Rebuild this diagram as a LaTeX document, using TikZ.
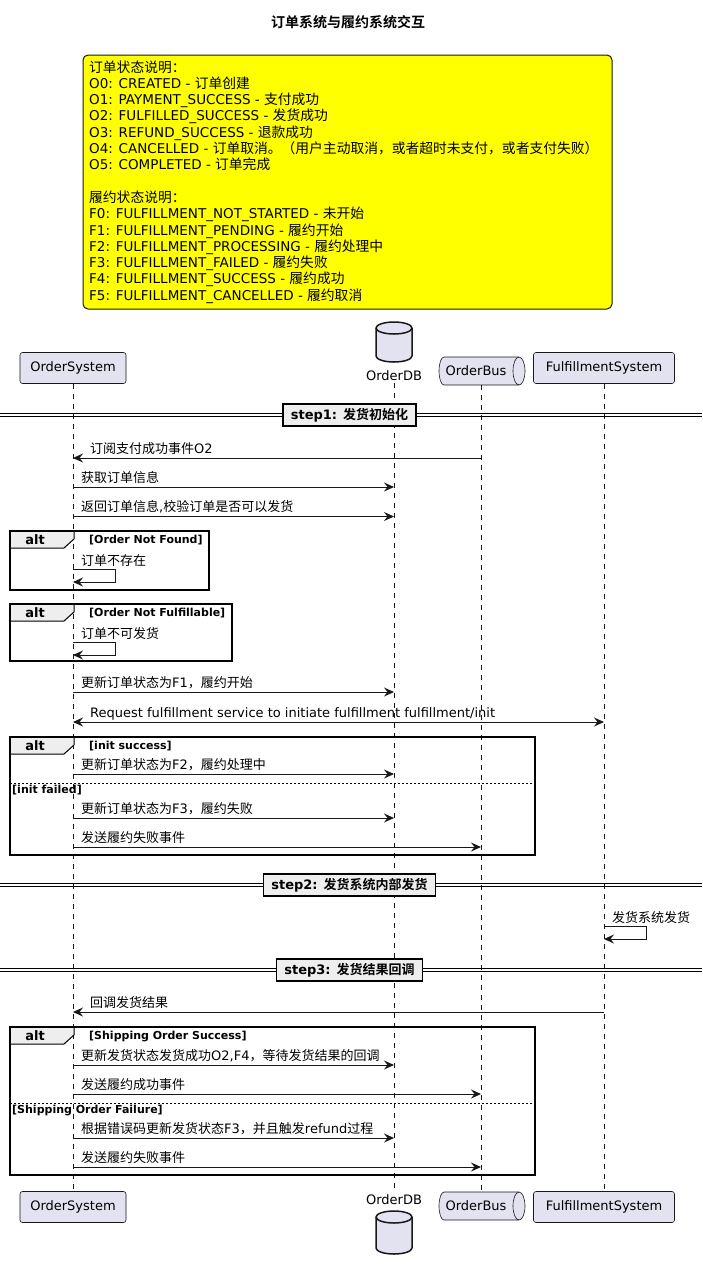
\documentclass[tikz,border=0pt]{standalone}
\usepackage{fontspec}
\setmainfont{DejaVu Sans}
\newfontfamily\cjkfont{Noto Sans CJK SC}[BoldFont={Noto Sans CJK SC Bold}]
\newfontfamily\cjknotefont{Noto Sans CJK SC}[Scale=1.02]
\usetikzlibrary{arrows.meta,calc}

% Han characters and CJK punctuation are set in the CJK family (\cjksel),
% everything else stays in DejaVu Sans.
\XeTeXinterchartokenstate=1
\newXeTeXintercharclass\cjkcls
\newcount\cjkcode
\newcommand\setcjkrange[2]{\cjkcode=#1\relax
  \loop\XeTeXcharclass\cjkcode=\cjkcls\relax
  \ifnum\cjkcode<#2\advance\cjkcode by 1\relax\repeat}
\setcjkrange{"3000}{"303F}
\setcjkrange{"4E00}{"9FFF}
\setcjkrange{"FF00}{"FFEF}
\newcommand\cjksel{\cjkfont}
\XeTeXinterchartoks 0 \cjkcls = {\cjksel}
\XeTeXinterchartoks 4095 \cjkcls = {\cjksel}
\XeTeXinterchartoks \cjkcls 0 = {\rmfamily}
\XeTeXinterchartoks \cjkcls 4095 = {\rmfamily}

\definecolor{partfill}{HTML}{E2E2F0}
\definecolor{partline}{HTML}{181818}
\definecolor{tabfill}{HTML}{EEEEEE}
\definecolor{notefill}{HTML}{FFFF00}

\tikzset{
  txt/.style={font=\fontsize{13}{15}\selectfont, inner sep=0pt},
  part/.style={txt, draw=partline, fill=partfill, line width=0.6pt, rounded corners=2.5pt, minimum height=31pt},
  dbshape/.style={draw=partline, fill=partfill, line width=1.5pt},
  queue/.style={draw=partline, fill=partfill, line width=0.6pt},
  lifeline/.style={draw=partline, line width=0.6pt, dash pattern=on 5pt off 5pt},
  msg/.style={draw=partline, line width=1pt, -{Stealth[length=10pt,width=9pt,inset=3.5pt]}},
  bimsg/.style={draw=partline, line width=1pt, {Stealth[length=10pt,width=9pt,inset=3.5pt]}-{Stealth[length=10pt,width=9pt,inset=3.5pt]}},
  lbl/.style={txt, anchor=base west},
  notebox/.style={draw=partline, fill=notefill, line width=1pt, rounded corners=5pt, inner sep=0pt},
  notetext/.style={font=\fontsize{13.5}{16.3}\selectfont\renewcommand\cjksel{\cjknotefont}, inner sep=0pt, anchor=base west},
  titletext/.style={font=\bfseries\fontsize{14}{16}\selectfont, inner sep=0pt},
  dline/.style={draw=black, line width=1pt},
  stepbox/.style={font=\bfseries\fontsize{13}{15}\selectfont, draw=black, fill=tabfill, line width=1.5pt, inner xsep=8pt, inner ysep=0pt, minimum height=22pt},
  altframe/.style={draw=black, line width=1.5pt},
  tab/.style={draw=black, fill=tabfill, line width=1pt},
  alttext/.style={font=\bfseries\fontsize{13}{15}\selectfont, inner sep=0pt},
  condtext/.style={font=\bfseries\fontsize{11}{13}\selectfont, inner sep=0pt, anchor=west},
  altsep/.style={draw=black, line width=0.8pt, dash pattern=on 2pt off 2pt},
}

% message between two lifelines: row name, from, to, y, label offset from OrderSystem, label
\newcommand\seqmsg[6]{%
  \coordinate (#1) at (0,#4);
  \draw[msg] (#2 |- #1) -- (#3 |- #1);
  \node[lbl] (#1t) at ($(os |- #1)+(#5,-5)$) {#6};
}
% message from a lifeline to itself: row name, lifeline, y of the loop top, label
\newcommand\selfmsg[4]{%
  \coordinate (#1) at (0,#3);
  \node[lbl] (#1t) at ($(#2 |- #1)+(8,-4)$) {#4};
  \draw[msg] (#2 |- #1) -- ++(42,0) -- ++(0,13) -- ($(#2 |- #1)+(0,13)$);
}
% section divider: name, y, text
\newcommand\divider[3]{%
  \draw[dline] (0,#2-1.5) -- (702,#2-1.5);
  \draw[dline] (0,#2+1.5) -- (702,#2+1.5);
  \node[stepbox] (#1) at (349.5,#2) {#3};
}
% alt fragment: name, x1, y1, x2, y2, guard
\newcommand\altbox[6]{%
  \draw[tab] (#2,#3) -- ++(64,0) -- ++(0,8) -- ++(-10,9) -- (#2,#3+17) -- cycle;
  \draw[altframe] (#2,#3) rectangle (#4,#5);
  \node[alttext] (#1a) at (#2+25,#3+9) {alt};
  \node[condtext] (#1c) at (#2+79,#3+9) {#6};
}
% database cylinder: left x, top y, bottom y
\newcommand\dbcyl[3]{%
  \draw[dbshape] (#1,#2+6) -- (#1,#3-6) arc[start angle=180, end angle=360, x radius=18pt, y radius=6pt]
    -- (#1+36,#2+6) arc[start angle=0, end angle=180, x radius=18pt, y radius=6pt] -- cycle;
  \draw[dbshape, fill=none] (#1,#2+6) arc[start angle=180, end angle=360, x radius=18pt, y radius=6pt];
}
% queue drum: left x, top y
\newcommand\queuedrum[2]{%
  \draw[queue] (#1+5,#2) -- (#1+80,#2) arc[start angle=90, end angle=-90, x radius=6pt, y radius=14pt]
    -- (#1+5,#2+28) arc[start angle=270, end angle=90, x radius=5pt, y radius=14pt] -- cycle;
  \draw[queue, fill=none] (#1+80,#2) arc[start angle=90, end angle=270, x radius=6pt, y radius=14pt];
}

\begin{document}
\begin{tikzpicture}[x=1pt,y=-1pt]
\useasboundingbox (0,0) rectangle (702,1270);
\fill[white] (0,0) rectangle (702,1270);

% title
\node[titletext] (title) at (348,22) {订单系统与履约系统交互};

% state legend
\node[notebox, minimum width=529pt, minimum height=254pt] (note) at (347.5,182) {};
\node[notetext] (notetxt) at (89,72) {\vtop{\baselineskip=16.3pt \lineskiplimit=-20pt
  \hbox{订单状态说明：}
  \hbox{O0: CREATED - 订单创建}
  \hbox{O1: PAYMENT\_SUCCESS - 支付成功}
  \hbox{O2: FULFILLED\_SUCCESS - 发货成功}
  \hbox{O3: REFUND\_SUCCESS - 退款成功}
  \hbox{O4: CANCELLED - 订单取消。（用户主动取消，或者超时未支付，或者支付失败）}
  \hbox{O5: COMPLETED - 订单完成}
  \hbox{}
  \hbox{履约状态说明：}
  \hbox{F0: FULFILLMENT\_NOT\_STARTED - 未开始}
  \hbox{F1: FULFILLMENT\_PENDING - 履约开始}
  \hbox{F2: FULFILLMENT\_PROCESSING - 履约处理中}
  \hbox{F3: FULFILLMENT\_FAILED - 履约失败}
  \hbox{F4: FULFILLMENT\_SUCCESS - 履约成功}
  \hbox{F5: FULFILLMENT\_CANCELLED - 履约取消}}};

% participants, top
\node[part, minimum width=106pt] (os) at (73,368) {OrderSystem};
\dbcyl{376}{322}{362}
\node[txt, inner sep=2pt] (dblbl) at (394,376) {OrderDB};
\queuedrum{439}{357}
\node[txt] (bustxt) at (476,371) {OrderBus};
\coordinate (bustop) at (481,385);
\node[part, minimum width=141pt] (fs) at (604,368) {FulfillmentSystem};

% participants, bottom
\node[part, minimum width=106pt] (os2) at (73,1207) {OrderSystem};
\node[txt, inner sep=2pt] (dblbl2) at (394,1200) {OrderDB};
\dbcyl{376}{1211}{1254}
\queuedrum{439}{1192}
\node[txt] (bustxt2) at (476,1206) {OrderBus};
\coordinate (busbot) at (481,1192);
\node[part, minimum width=141pt] (fs2) at (604,1207) {FulfillmentSystem};

% lifelines
\draw[lifeline] (os.south) -- (os2.north);
\draw[lifeline] (dblbl.south) -- (dblbl2.north);
\draw[lifeline] (bustop) -- (busbot);
\draw[lifeline] (fs.south) -- (fs2.north);

% step 1
\divider{step1}{415}{step1: 发货初始化}
\seqmsg{m1}{bustop}{os}{458}{17}{订阅支付成功事件O2}
\seqmsg{m2}{os}{dblbl}{487}{8}{获取订单信息}
\seqmsg{m3}{os}{dblbl}{516.5}{8}{返回订单信息,校验订单是否可以发货}

\altbox{alt1}{10}{531}{209}{590}{[Order Not Found]}
\selfmsg{s1}{os}{569}{订单不存在}

\altbox{alt2}{10}{604}{232}{661}{[Order Not Fulfillable]}
\selfmsg{s2}{os}{642}{订单不可发货}

\seqmsg{m4}{os}{dblbl}{692}{8}{更新订单状态为F1，履约开始}
\coordinate (m5) at (0,722);
\draw[bimsg] (os |- m5) -- (fs |- m5);
\node[lbl] (m5t) at ($(os |- m5)+(17,-5)$) {Request fulfillment service to initiate fulfillment fulfillment/init};

\altbox{alt3}{10}{737}{535}{855}{[init success]}
\seqmsg{m6}{os}{dblbl}{774}{8}{更新订单状态为F2，履约处理中}
\draw[altsep] (10,783) -- (535,783);
\node[condtext] (else3) at (12,790.5) {[init failed]};
\seqmsg{m7}{os}{dblbl}{818}{8}{更新订单状态为F3，履约失败}
\seqmsg{m8}{os}{bustop}{847}{8}{发送履约失败事件}

% step 2
\divider{step2}{885}{step2: 发货系统内部发货}
\selfmsg{s3}{fs}{926}{发货系统发货}

% step 3
\divider{step3}{970}{step3: 发货结果回调}
\seqmsg{m9}{fs}{os}{1012}{17}{回调发货结果}

\altbox{alt4}{10}{1027}{535}{1175}{[Shipping Order Success]}
\seqmsg{m10}{os}{dblbl}{1065}{8}{更新发货状态发货成功O2,F4，等待发货结果的回调}
\seqmsg{m11}{os}{bustop}{1094}{8}{发送履约成功事件}
\draw[altsep] (10,1103) -- (535,1103);
\node[condtext] (else4) at (12,1110.5) {[Shipping Order Failure]};
\seqmsg{m12}{os}{dblbl}{1138}{8}{根据错误码更新发货状态F3，并且触发refund过程}
\seqmsg{m13}{os}{bustop}{1167}{8}{发送履约失败事件}
\end{tikzpicture}
\end{document}
